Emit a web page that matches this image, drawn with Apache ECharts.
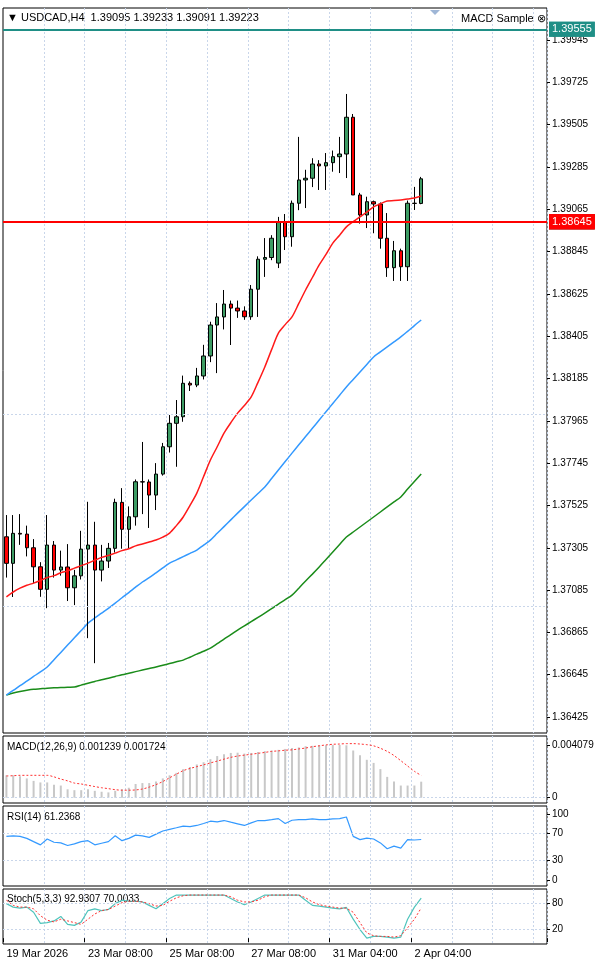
<!DOCTYPE html>
<html>
<head>
<meta charset="UTF-8">
<title>USDCAD H4</title>
<script src="https://cdn.jsdelivr.net/npm/echarts@6/dist/echarts.min.js"></script>
<style>
  body { margin: 0; padding: 0; background: #fff; }
</style>
</head>
<body>
<div id="chart" style="width:600px;height:964px;"></div>
<script>
// bar labels shown on the time axis (index -> text)
var timeLabels = { 0: '19 Mar 2026', 12: '23 Mar 08:00', 24: '25 Mar 08:00', 36: '27 Mar 08:00', 48: '31 Mar 04:00', 60: '2 Apr 04:00' };
var barCount = 80;

// [open, close, low, high]
var candles = [
  [1.37362,1.37224,1.37150,1.37475],[1.37224,1.37380,1.37049,1.37475],[1.37380,1.37376,1.37320,1.37480],
  [1.37376,1.37305,1.37260,1.37420],[1.37305,1.37206,1.37120,1.37350],[1.37206,1.37089,1.37050,1.37230],
  [1.37089,1.37319,1.36991,1.37475],[1.37319,1.37189,1.37150,1.37340],[1.37189,1.37205,1.37160,1.37290],
  [1.37205,1.37097,1.37028,1.37324],[1.37097,1.37159,1.37007,1.37190],[1.37159,1.37298,1.37140,1.37393],
  [1.37298,1.37319,1.36835,1.37544],[1.37319,1.37189,1.36705,1.37440],[1.37189,1.37236,1.37130,1.37320],
  [1.37236,1.37302,1.37200,1.37330],[1.37302,1.37541,1.37280,1.37560],[1.37541,1.37401,1.37300,1.37615],
  [1.37401,1.37466,1.37300,1.37520],[1.37466,1.37648,1.37420,1.37660],[1.37648,1.37647,1.37480,1.37855],
  [1.37647,1.37579,1.37408,1.37660],[1.37579,1.37688,1.37501,1.37745],[1.37688,1.37830,1.37680,1.37850],
  [1.37830,1.37952,1.37800,1.37995],[1.37952,1.37986,1.37726,1.38073],[1.37986,1.38160,1.37960,1.38200],
  [1.38160,1.38151,1.38120,1.38170],[1.38151,1.38198,1.38140,1.38240],[1.38198,1.38302,1.38180,1.38360],
  [1.38302,1.38463,1.38270,1.38480],[1.38463,1.38505,1.38213,1.38577],[1.38505,1.38572,1.38440,1.38645],
  [1.38572,1.38551,1.38359,1.38590],[1.38551,1.38536,1.38500,1.38590],[1.38536,1.38506,1.38490,1.38560],
  [1.38506,1.38649,1.38490,1.38671],[1.38649,1.38805,1.38505,1.38820],[1.38805,1.38814,1.38713,1.38915],
  [1.38814,1.38914,1.38800,1.38930],[1.38785,1.39000,1.38759,1.39025],[1.39000,1.38922,1.38853,1.39040],
  [1.38922,1.39096,1.38870,1.39110],[1.39096,1.39217,1.39060,1.39441],[1.39217,1.39226,1.39071,1.39270],
  [1.39226,1.39300,1.39180,1.39330],[1.39300,1.39290,1.39165,1.39320],[1.39290,1.39307,1.39165,1.39357],
  [1.39307,1.39338,1.39260,1.39370],[1.39338,1.39352,1.39253,1.39441],[1.39352,1.39543,1.39227,1.39664],
  [1.39543,1.39139,1.39139,1.39560],[1.39139,1.39035,1.38990,1.39150],[1.39035,1.39104,1.38967,1.39130],
  [1.39104,1.39092,1.38940,1.39110],[1.39092,1.38914,1.38860,1.39100],[1.38914,1.38761,1.38713,1.39045],
  [1.38761,1.38849,1.38692,1.38900],[1.38849,1.38766,1.38692,1.38860],[1.38766,1.39096,1.38692,1.39110],
  [1.39096,1.39095,1.39061,1.39181],[1.39095,1.39223,1.39091,1.39233]
];

var maRed = [1.37050,1.37075,1.37095,1.37110,1.37121,1.37135,1.37150,1.37160,1.37175,1.37185,1.37199,1.37212,1.37225,1.37240,1.37255,1.37265,1.37277,1.37290,1.37300,1.37315,1.37325,1.37335,1.37345,1.37360,1.37381,1.37420,1.37465,1.37525,1.37589,1.37675,1.37761,1.37830,1.37901,1.37955,1.38005,1.38045,1.38089,1.38165,1.38245,1.38335,1.38421,1.38465,1.38505,1.38575,1.38645,1.38710,1.38775,1.38830,1.38889,1.38930,1.38973,1.39000,1.39025,1.39050,1.39077,1.39093,1.39108,1.39110,1.39113,1.39118,1.39123,1.39134];
var maBlue = [1.36539,1.36563,1.36588,1.36612,1.36636,1.36660,1.36685,1.36723,1.36761,1.36799,1.36837,1.36875,1.36913,1.36940,1.36965,1.36990,1.37017,1.37045,1.37072,1.37100,1.37127,1.37150,1.37175,1.37200,1.37225,1.37242,1.37259,1.37276,1.37293,1.37319,1.37345,1.37380,1.37415,1.37450,1.37485,1.37519,1.37553,1.37587,1.37621,1.37665,1.37709,1.37753,1.37797,1.37840,1.37883,1.37926,1.37969,1.38012,1.38055,1.38098,1.38141,1.38180,1.38219,1.38258,1.38297,1.38323,1.38349,1.38375,1.38401,1.38430,1.38460,1.38489];
var maGreen = [1.36539,1.36550,1.36558,1.36564,1.36569,1.36572,1.36575,1.36577,1.36578,1.36580,1.36581,1.36591,1.36601,1.36610,1.36619,1.36627,1.36636,1.36645,1.36653,1.36661,1.36669,1.36677,1.36685,1.36694,1.36703,1.36712,1.36721,1.36736,1.36752,1.36767,1.36783,1.36806,1.36830,1.36853,1.36877,1.36899,1.36921,1.36943,1.36965,1.36988,1.37012,1.37035,1.37059,1.37095,1.37132,1.37168,1.37205,1.37244,1.37283,1.37322,1.37361,1.37387,1.37413,1.37439,1.37465,1.37491,1.37517,1.37543,1.37569,1.37610,1.37650,1.37689];

var macdHist = [0.00173,0.00173,0.00166,0.00149,0.00130,0.00118,0.00118,0.00101,0.00094,0.00065,0.00058,0.00058,0.00065,0.00053,0.00046,0.00041,0.00053,0.00065,0.00077,0.00106,0.00113,0.00113,0.00125,0.00149,0.00173,0.00192,0.00221,0.00238,0.00257,0.00274,0.00298,0.00322,0.00336,0.00346,0.00348,0.00341,0.00346,0.00353,0.00360,0.00365,0.00370,0.00377,0.00384,0.00389,0.00398,0.00401,0.00406,0.00406,0.00408,0.00408,0.00405,0.00365,0.00329,0.00293,0.00269,0.00221,0.00161,0.00125,0.00094,0.00094,0.00094,0.001239];
var macdSignal = [0.00168,0.00170,0.00173,0.00173,0.00173,0.00173,0.00173,0.00161,0.00144,0.00130,0.00113,0.00106,0.00096,0.00086,0.00077,0.00070,0.00062,0.00058,0.00058,0.00060,0.00067,0.00082,0.00101,0.00125,0.00154,0.00182,0.00209,0.00226,0.00240,0.00254,0.00269,0.00283,0.00298,0.00312,0.00322,0.00329,0.00336,0.00343,0.00350,0.00358,0.00362,0.00367,0.00370,0.00377,0.00384,0.00394,0.00401,0.00408,0.00413,0.00415,0.00418,0.00418,0.00415,0.00410,0.00401,0.00382,0.00358,0.00326,0.00286,0.00245,0.00204,0.001724];
var rsi = [65.9,66.8,65.9,62.9,58.0,53.2,62.0,57.1,56.1,52.2,54.6,58.0,59.5,53.2,55.6,58.0,66.8,59.5,62.9,67.8,66.8,64.4,69.3,74.1,76.6,79.0,81.5,80.5,82.4,85.4,88.8,87.8,89.8,87.3,84.9,82.4,86.3,89.8,89.8,91.2,92.7,85.4,90.2,91.2,91.2,92.2,91.2,91.2,92.2,92.7,95.1,65.9,61.0,63.4,62.0,56.1,47.3,51.2,48.3,61.0,60.5,61.2368];
var stochK = [80,72,69.6,72,60,34.4,36,40,50.4,32,29.6,37.6,64,68,64,66.4,80,88,85.6,85.6,84,76,68,80,92,100,100,100,100,100,100,100,100,92,84,77.6,84,92,100,100,100,100,100,100,88,76,74.4,72,69.6,68,71.2,44,20,0,4,4,2.4,0,2.4,44,72,92.9307];
var stochD = [88,76,72,72,68,52,41.6,37.6,44,40,36,32,44,56,64,66.4,74.4,82.4,85.6,85.6,84,80,74.4,76,85.6,93.6,98.4,100,100,100,100,100,100,96,88,84,84,88,96,100,100,100,100,100,93.6,84,77.6,74.4,72,69.6,69.6,60,36,12,5.6,4,4,2.4,5.6,24,44,70.0033];

var priceTicks = [1.36425,1.36645,1.36865,1.37085,1.37305,1.37525,1.37745,1.37965,1.38185,1.38405,1.38625,1.38845,1.39065,1.39285,1.39505,1.39725,1.39945];
var tealLevels = [1.39715,1.39555,1.39394];
var redLevels = [1.38966,1.38806,1.38645];
var lastPrice = 1.39223;

var categories = [];
for (var i = 0; i < barCount; i++) categories.push(String(i));

var gridLine = { color: '#c9d6ea', type: [2, 2], width: 1 };

function xAxisFor(idx, showLabels) {
  return {
    type: 'category', gridIndex: idx, data: categories, boundaryGap: true,
    axisLine: { show: false },
    axisTick: { show: showLabels, length: 4, lineStyle: { color: '#000' }, interval: function (i) { return timeLabels[i] !== undefined; } },
    axisLabel: {
      show: showLabels, interval: function (i) { return timeLabels[i] !== undefined; },
      formatter: function (v, i) { return timeLabels[i] || ''; },
      align: 'left', margin: 4, fontFamily: 'Liberation Sans', fontSize: 11, color: '#000'
    },
    splitLine: { show: true, interval: function (i) { return i > 0 && i % 6 === 0; }, lineStyle: gridLine }
  };
}

function rightAxis(idx, min, max, ticks, fmt) {
  return {
    type: 'value', gridIndex: idx, position: 'right', min: min, max: max,
    axisLine: { show: false },
    axisTick: { show: true, length: 3, customValues: ticks, lineStyle: { color: '#000' } },
    axisLabel: { customValues: ticks, margin: 5, formatter: fmt, hideOverlap: false, fontFamily: 'Liberation Sans', fontSize: 10, color: '#000' },
    splitLine: { show: false }
  };
}

function hLines(values) {
  return values.map(function (v) { return { name: 'g' + v, yAxis: v }; });
}

function tagLine(v, color, lineColor, width) {
  return {
    name: 't' + v,
    yAxis: v,
    lineStyle: { color: lineColor || color, width: width || 2, type: 'solid' },
    label: { show: true, position: 'end', distance: 2, formatter: v.toFixed(5), backgroundColor: color, color: '#fff', padding: [2, 3], fontFamily: 'Liberation Sans', fontSize: 11 }
  };
}

var levelLines = [tagLine(lastPrice, '#000', '#b9cde3', 1)]
  .concat(tealLevels.map(function (v) { return tagLine(v, '#1f8f86'); }))
  .concat(redLevels.map(function (v) { return tagLine(v, '#ff0000'); }));

var chart = echarts.init(document.getElementById('chart'));
var option = {
  animation: false,
  backgroundColor: '#fff',
  grid: [
    { left: 3, right: 53, top: 8, height: 725, show: true, borderColor: '#000', borderWidth: 1 },
    { left: 3, right: 53, top: 736, height: 67, show: true, borderColor: '#000', borderWidth: 1 },
    { left: 3, right: 53, top: 806, height: 80, show: true, borderColor: '#000', borderWidth: 1 },
    { left: 3, right: 53, top: 889, height: 55, show: true, borderColor: '#000', borderWidth: 1 }
  ],
  xAxis: [xAxisFor(0, false), xAxisFor(1, false), xAxisFor(2, false), xAxisFor(3, true)],
  yAxis: [
    rightAxis(0, 1.36342, 1.40111, priceTicks, function (v) { return v.toFixed(5); }),
    rightAxis(1, -0.00041, 0.00477, [0, 0.004079], function (v) { return v === 0 ? '0' : v.toFixed(6); }),
    rightAxis(2, -8.8, 111.7, [0, 30, 70, 100], function (v) { return String(v); }),
    rightAxis(3, -13.6, 114, [0, 20, 80, 100], function (v) { return String(v); })
  ],
  series: [
    {
      type: 'line', xAxisIndex: 0, yAxisIndex: 0, data: maGreen, symbol: 'none', smooth: 0.3, z: 1,
      lineStyle: { color: '#1a8c1a', width: 1.5 },
      markLine: { silent: true, symbol: 'none', label: { show: false }, lineStyle: gridLine, data: hLines(priceTicks) }
    },
    {
      type: 'candlestick', xAxisIndex: 0, yAxisIndex: 0, data: candles, barWidth: 4, z: 3,
      itemStyle: { color: '#3d9c64', color0: '#ff0000', borderColor: '#000', borderColor0: '#000', borderWidth: 1 }
    },
    {
      type: 'line', xAxisIndex: 0, yAxisIndex: 0, data: maRed, symbol: 'none', smooth: 0.3, z: 4,
      lineStyle: { color: '#ff1a1a', width: 1.5 },
      markLine: { silent: true, symbol: 'none', data: levelLines }
    },
    { type: 'line', xAxisIndex: 0, yAxisIndex: 0, data: maBlue, symbol: 'none', smooth: 0.3, lineStyle: { color: '#3399ff', width: 1.5 } },
    {
      type: 'bar', xAxisIndex: 1, yAxisIndex: 1, data: macdHist, barWidth: 2, itemStyle: { color: '#c8c8c8' },
      markLine: { silent: true, symbol: 'none', label: { show: false }, lineStyle: gridLine, data: hLines([0.004079]) }
    },
    { type: 'line', xAxisIndex: 1, yAxisIndex: 1, data: macdSignal, symbol: 'none', smooth: 0.3, lineStyle: { color: '#ff3030', width: 1, type: [2, 2] } },
    {
      type: 'line', xAxisIndex: 2, yAxisIndex: 2, data: rsi, symbol: 'none', lineStyle: { color: '#3399ff', width: 1.2 },
      markLine: { silent: true, symbol: 'none', label: { show: false }, lineStyle: gridLine, data: hLines([30, 70]) }
    },
    {
      type: 'line', xAxisIndex: 3, yAxisIndex: 3, data: stochK, symbol: 'none', lineStyle: { color: '#4fc4bc', width: 1.2 },
      markLine: { silent: true, symbol: 'none', label: { show: false }, lineStyle: gridLine, data: hLines([20, 80]) }
    },
    { type: 'line', xAxisIndex: 3, yAxisIndex: 3, data: stochD, symbol: 'none', lineStyle: { color: '#ff3030', width: 1, type: [2, 2] } }
  ],
  graphic: [
    { type: 'text', left: 7, top: 12, style: { text: '▼ USDCAD,H4  1.39095 1.39233 1.39091 1.39223', fontFamily: 'Liberation Sans', fontSize: 11, fill: '#000' } },
    { type: 'text', left: 461, top: 13, style: { text: 'MACD Sample ⊗', fontFamily: 'Liberation Sans', fontSize: 11, fill: '#000' } },
    { type: 'polygon', shape: { points: [[430, 10], [440, 10], [435, 15]] }, style: { fill: '#9fb6d6' } },
    { type: 'text', left: 7, top: 742, style: { text: 'MACD(12,26,9) 0.001239 0.001724', fontFamily: 'Liberation Sans', fontSize: 10, fill: '#000' } },
    { type: 'text', left: 7, top: 812, style: { text: 'RSI(14) 61.2368', fontFamily: 'Liberation Sans', fontSize: 10, fill: '#000' } },
    { type: 'text', left: 7, top: 894, style: { text: 'Stoch(5,3,3) 92.9307 70.0033', fontFamily: 'Liberation Sans', fontSize: 10, fill: '#000' } }
  ]
};
chart.setOption(option);
</script>
</body>
</html>
